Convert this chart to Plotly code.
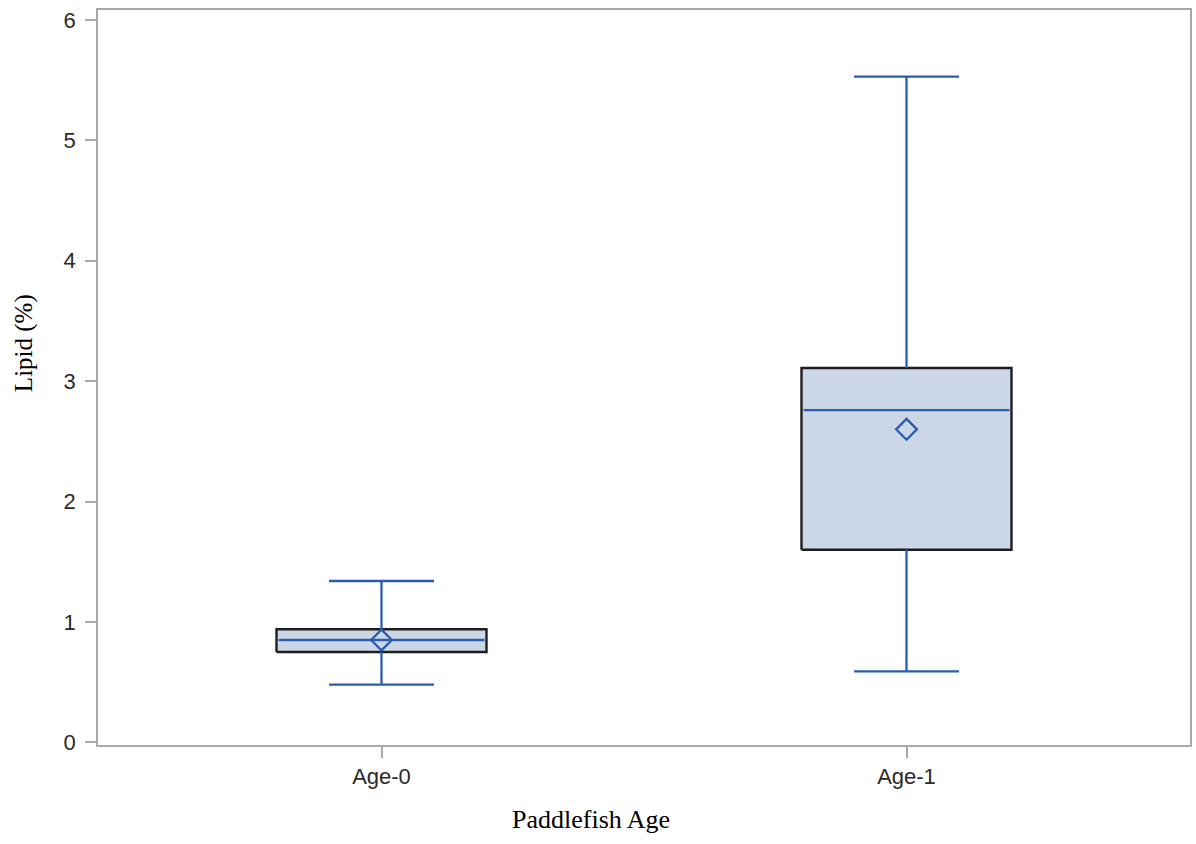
import plotly.graph_objects as go

# Lipid content summary by paddlefish age class
groups = ["Age-0", "Age-1"]
positions = [0, 1]
lower_whisker = [0.48, 0.59]
q1 = [0.75, 1.60]
median = [0.85, 2.76]
q3 = [0.94, 3.11]
upper_whisker = [1.34, 5.53]
mean = [0.85, 2.60]

BOX_HALF = 0.2
CAP_HALF = 0.1
BLUE = "#2B5CB0"
FILL = "#CBD6E6"
EDGE = "#1E1E1E"
AXIS = "#A4A9AC"

fig = go.Figure()

for i, x in enumerate(positions):
    # interquartile box
    fig.add_trace(go.Scatter(
        x=[x - BOX_HALF, x + BOX_HALF, x + BOX_HALF, x - BOX_HALF, x - BOX_HALF],
        y=[q1[i], q1[i], q3[i], q3[i], q1[i]],
        mode="lines", fill="toself", fillcolor=FILL,
        line=dict(color=EDGE, width=2.4), hoverinfo="skip", showlegend=False,
    ))
    # whiskers
    fig.add_trace(go.Scatter(
        x=[x, x, None, x, x],
        y=[q3[i], upper_whisker[i], None, q1[i], lower_whisker[i]],
        mode="lines", line=dict(color=BLUE, width=2.3), hoverinfo="skip", showlegend=False,
    ))
    # whisker caps
    fig.add_trace(go.Scatter(
        x=[x - CAP_HALF, x + CAP_HALF, None, x - CAP_HALF, x + CAP_HALF],
        y=[upper_whisker[i], upper_whisker[i], None, lower_whisker[i], lower_whisker[i]],
        mode="lines", line=dict(color=BLUE, width=2.3), hoverinfo="skip", showlegend=False,
    ))
    # median
    fig.add_trace(go.Scatter(
        x=[x - BOX_HALF + 0.004, x + BOX_HALF - 0.004],
        y=[median[i], median[i]],
        mode="lines", line=dict(color=BLUE, width=2.3), hoverinfo="skip", showlegend=False,
    ))

# means
fig.add_trace(go.Scatter(
    x=positions, y=mean, mode="markers",
    marker=dict(symbol="diamond-open", size=16, color=BLUE, line=dict(width=2.3, color=BLUE)),
    showlegend=False,
))

axis_common = dict(
    showline=True, linecolor=AXIS, linewidth=1.8, mirror=True,
    ticks="outside", ticklen=11, tickwidth=1.8, tickcolor=AXIS,
    showgrid=False, zeroline=False,
    tickfont=dict(family="Liberation Sans, Arial", size=22, color="#2A2A2A"),
)

fig.update_layout(
    width=1196, height=844,
    margin=dict(l=98, r=4, t=10, b=99),
    paper_bgcolor="white", plot_bgcolor="white",
    xaxis=dict(range=[-0.54, 1.54], tickvals=positions, ticktext=groups, **axis_common),
    yaxis=dict(range=[-0.022, 6.083], tickvals=[0, 1, 2, 3, 4, 5, 6], ticklabelstandoff=5, **axis_common),
    annotations=[
        dict(text="Paddlefish Age", xref="paper", yref="paper", x=0.4516, y=-0.1007,
             showarrow=False, xanchor="center", yanchor="middle",
             font=dict(family="Liberation Serif, Times New Roman", size=26, color="black")),
        dict(text="Lipid (%)", xref="paper", yref="paper", x=-0.0676, y=0.547,
             showarrow=False, xanchor="center", yanchor="middle", textangle=-90,
             font=dict(family="Liberation Serif, Times New Roman", size=25, color="black")),
    ],
)

fig.write_html("out.html")
